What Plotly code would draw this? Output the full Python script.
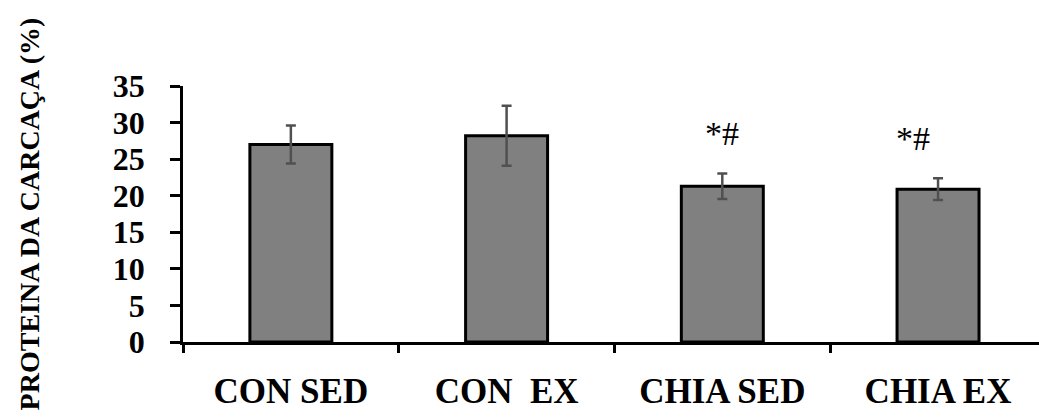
import plotly.graph_objects as go

categories = ["CON SED", "CON\u00a0\u00a0EX", "CHIA SED", "CHIA EX"]
means = [27.0, 28.2, 21.3, 20.9]
errors = [2.6, 4.1, 1.75, 1.5]
marks = ["", "", "*#", "*#"]
y_ticks = [0, 5, 10, 15, 20, 25, 30, 35]
y_title = "PROTEINA DA CARCAÇA (%)"

SERIF = "Liberation Serif, Times New Roman, serif"

fig = go.Figure()
fig.add_trace(go.Bar(
    x=categories,
    y=means,
    width=0.38,
    marker=dict(color="#808080", line=dict(color="black", width=3)),
    error_y=dict(type="data", array=errors, visible=True,
                 color="#505050", thickness=2.5, width=5),
    showlegend=False,
    hoverinfo="skip",
))

mark_xshift = [0, 0, 0, -25]
for i, (c, m, e, t) in enumerate(zip(categories, means, errors, marks)):
    if t:
        fig.add_annotation(x=c, y=m + e, text=t, showarrow=False,
                           yanchor="middle", yshift=40, xshift=mark_xshift[i],
                           font=dict(family=SERIF, size=34, color="black"))

fig.update_layout(
    width=1039, height=418,
    margin=dict(l=183, r=0, t=86, b=76),
    paper_bgcolor="white", plot_bgcolor="white",
    bargap=0.6,
)
fig.update_xaxes(
    type="category",
    range=[-0.5, 3.468],
    showline=True, linecolor="black", linewidth=2.5,
    ticks="outside", tickson="boundaries", ticklen=8, tickwidth=2.5, tickcolor="black",
    tickfont=dict(family=SERIF, size=35, color="black", weight="bold"),
    ticklabelstandoff=16,
    showgrid=False, zeroline=False,
)
fig.update_yaxes(
    range=[0, 35],
    tickvals=y_ticks,
    showline=True, linecolor="black", linewidth=2.5,
    ticks="outside", ticklen=10, tickwidth=2.5, tickcolor="black",
    tickfont=dict(family=SERIF, size=32, color="black", weight="bold"),
    ticklabelstandoff=19,
    showgrid=False, zeroline=False,
    title=dict(text=y_title, standoff=66,
               font=dict(family=SERIF, size=28, color="black", weight="bold")),
    automargin=False,
)

fig.write_html("out.html")
